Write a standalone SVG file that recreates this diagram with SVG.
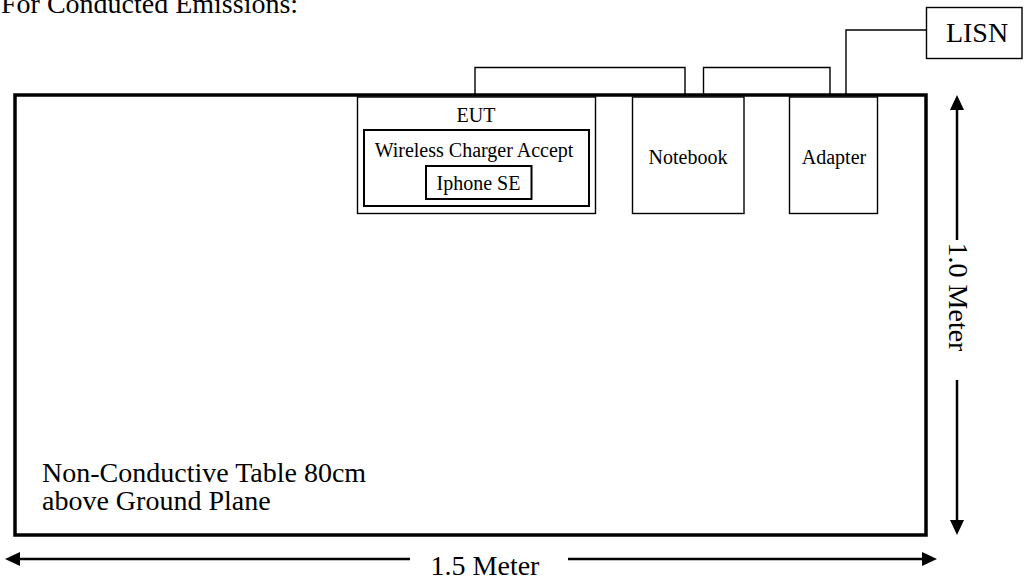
<svg xmlns="http://www.w3.org/2000/svg" width="1027" height="583" viewBox="0 0 1027 583">
<defs>
<style>
.box{fill:#fff;stroke:#000;stroke-width:1.4}
.box2{fill:none;stroke:#000;stroke-width:2}
.table{fill:#fff;stroke:#000;stroke-width:3.5}
.wire{fill:none;stroke:#000;stroke-width:1.4}
.dim{fill:none;stroke:#000;stroke-width:2.5}
.t20{font-family:"Liberation Serif","Times New Roman",serif;font-size:20px;fill:#000}
.t28{font-family:"Liberation Serif","Times New Roman",serif;font-size:28px;fill:#000}
</style>
<marker id="ah" viewBox="0 0 15 14" refX="2" refY="7" markerWidth="15" markerHeight="14" markerUnits="userSpaceOnUse" orient="auto">
<path d="M0,0 L15,7 L0,14 z" fill="#000"/>
</marker>
</defs>
<rect width="1027" height="583" fill="#fff"/>
<text class="t28" x="1" y="13">For Conducted Emissions:</text>
<g id="table">
<rect class="table" x="15" y="95" width="911" height="440"/>
<text class="t28" x="42" y="482">Non-Conductive Table 80cm</text>
<text class="t28" x="42" y="510">above Ground Plane</text>
</g>
<g id="eut">
<rect class="box" x="357.5" y="97" width="238" height="116.5"/>
<text class="t20" x="476" y="122" text-anchor="middle">EUT</text>
<g id="wireless-charger">
<rect class="box2" x="364" y="130" width="225" height="76"/>
<text class="t20" x="474" y="157" text-anchor="middle">Wireless Charger Accept</text>
</g>
<g id="iphone">
<rect class="box2" x="426" y="166" width="105.5" height="33"/>
<text class="t20" x="478.5" y="189.5" text-anchor="middle">Iphone SE</text>
</g>
</g>
<g id="notebook">
<rect class="box" x="632.5" y="97" width="111.5" height="116.5"/>
<text class="t20" x="688" y="163.5" text-anchor="middle">Notebook</text>
</g>
<g id="adapter">
<rect class="box" x="789.5" y="97" width="88" height="116.5"/>
<text class="t20" x="834" y="163.5" text-anchor="middle">Adapter</text>
</g>
<g id="lisn">
<rect class="box" x="926.5" y="7.5" width="95.5" height="51"/>
<text class="t28" x="977" y="42" text-anchor="middle">LISN</text>
</g>
<g id="connectors">
<polyline class="wire" points="475,94 475,67.5 685,67.5 685,94"/>
<polyline class="wire" points="703.5,94 703.5,67.5 830,67.5 830,94"/>
<polyline class="wire" points="846,94 846,30 926.5,30"/>
</g>
<g id="dimensions">
<line class="dim" x1="957" y1="240" x2="957" y2="108" marker-end="url(#ah)"/>
<line class="dim" x1="957" y1="380" x2="957" y2="522" marker-end="url(#ah)"/>
<text class="t28" transform="translate(949,297) rotate(90)" text-anchor="middle">1.0 Meter</text>
<line class="dim" x1="410" y1="559" x2="18" y2="559" marker-end="url(#ah)"/>
<line class="dim" x1="568" y1="559" x2="924" y2="559" marker-end="url(#ah)"/>
<text class="t28" x="485" y="575" text-anchor="middle">1.5 Meter</text>
</g>
</svg>
